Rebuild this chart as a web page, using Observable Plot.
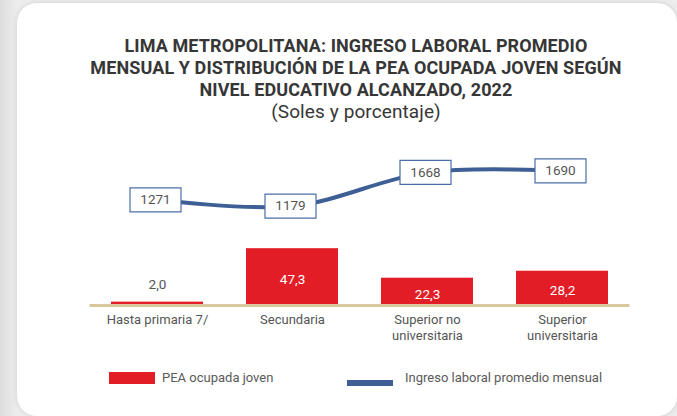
<!DOCTYPE html>
<html><head><meta charset="utf-8">
<script src="https://cdn.jsdelivr.net/npm/d3@7"></script>
<script src="https://cdn.jsdelivr.net/npm/@observablehq/plot@0.6"></script>
<style>
html,body{margin:0;padding:0;}
body{width:677px;height:416px;overflow:hidden;position:relative;background:linear-gradient(90deg,#dedede,#ececec 17px,#ececec);font-family:Roboto,"Noto Sans",sans-serif;}
#card{position:absolute;left:17px;top:3px;width:660px;height:413px;background:#fff;border-radius:20px;box-shadow:0 0 5px rgba(0,0,0,0.12);}
#title{position:absolute;left:0;top:35px;width:712px;text-align:center;font-size:18px;line-height:22px;font-weight:700;color:#363636;letter-spacing:0.1px;}
#title .sub{font-weight:400;letter-spacing:0.1px;font-size:19px;}
.layer{position:absolute;left:0;top:140px;}
.lg{position:absolute;font-size:13px;color:#5a5a5a;line-height:14px;}
.sw{position:absolute;}
</style></head>
<body>
<div id="card"></div>
<div id="title"></div>
<div id="bars" class="layer"></div>
<div id="line" class="layer"></div>
<div id="legend"></div>
<script>
const titleLines = ["LIMA METROPOLITANA: INGRESO LABORAL PROMEDIO", "MENSUAL Y DISTRIBUCIÓN DE LA PEA OCUPADA JOVEN SEGÚN", "NIVEL EDUCATIVO ALCANZADO, 2022"];
const subtitle = "(Soles y porcentaje)";
const categories = ["Hasta primaria 7/", "Secundaria", "Superior no\nuniversitaria", "Superior\nuniversitaria"];
const peaOcupada = [2.0, 47.3, 22.3, 28.2];
const ingresoPromedio = [1271, 1179, 1668, 1690];
const seriesNames = ["PEA ocupada joven", "Ingreso laboral promedio mensual"];

const red = "#e31d25", blue = "#3d5f96";
const data = categories.map((c, i) => ({cat: c, pea: peaOcupada[i], ing: ingresoPromedio[i]}));
const fmt = v => d3.format(".1f")(v).replace(".", ",");

const t = document.getElementById("title");
t.innerHTML = titleLines.join("<br>") + '<br><span class="sub">' + subtitle + '</span>';

const W = 677, H = 220;
const xOpts = {domain: categories, paddingInner: 0.32, paddingOuter: 0.16};
const common = {width: W, height: H, marginLeft: 89.5, marginRight: 47.5, marginTop: 0,
  style: {fontFamily: "Roboto, sans-serif", fontSize: "13px", background: "transparent", overflow: "visible"}};

const bars = Plot.plot({
  ...common, marginBottom: 56,
  x: xOpts,
  y: {domain: [0, 139], axis: null},
  marks: [
    Plot.barY(data, {x: "cat", y: "pea", fill: red}),
    Plot.ruleY([0], {stroke: "#d9c79c", strokeWidth: 3, dy: 1}),
    Plot.text(data.filter(d => d.pea >= 5), {x: "cat", y: d => d.pea / 2, text: d => fmt(d.pea), fill: "white", dy: 3, fontSize: 13.5}),
    Plot.text(data.filter(d => d.pea < 5), {x: "cat", y: "pea", text: d => fmt(d.pea), fill: "#555", dy: -17, fontSize: 13.5}),
    Plot.axisX({tickSize: 0, tickPadding: 8, label: null, fill: "#555", fontSize: 13, lineHeight: 1.23})
  ]
});
document.getElementById("bars").append(bars);

const boxSymbol = {draw(ctx) { ctx.moveTo(-25.5, -12); ctx.lineTo(25.5, -12); ctx.lineTo(25.5, 12); ctx.lineTo(-25.5, 12); ctx.closePath(); }};
const line = Plot.plot({
  ...common, marginBottom: 73,
  x: {...xOpts, axis: null},
  y: {domain: [0, 2130], axis: null},
  marks: [
    Plot.line(data, {x: "cat", y: "ing", stroke: blue, strokeWidth: 4, curve: "catmull-rom"}),
    Plot.dot(data, {x: "cat", y: "ing", symbol: boxSymbol, r: 10, fill: "white", stroke: "#4a6fa7", strokeWidth: 1.2, dx: -2}),
    Plot.text(data, {x: "cat", y: "ing", text: d => String(d.ing), fill: "#555", fontSize: 13.5, dx: -2})
  ]
});
document.getElementById("line").append(line);

const lg = document.getElementById("legend");
lg.innerHTML =
  `<div class="sw" style="left:109px;top:372px;width:46px;height:12px;background:${red}"></div>` +
  `<div class="lg" style="left:162px;top:371px">${seriesNames[0]}</div>` +
  `<div class="sw" style="left:347px;top:380px;width:46px;height:6px;background:${blue}"></div>` +
  `<div class="lg" style="left:405px;top:371px">${seriesNames[1]}</div>`;
</script>
</body></html>
